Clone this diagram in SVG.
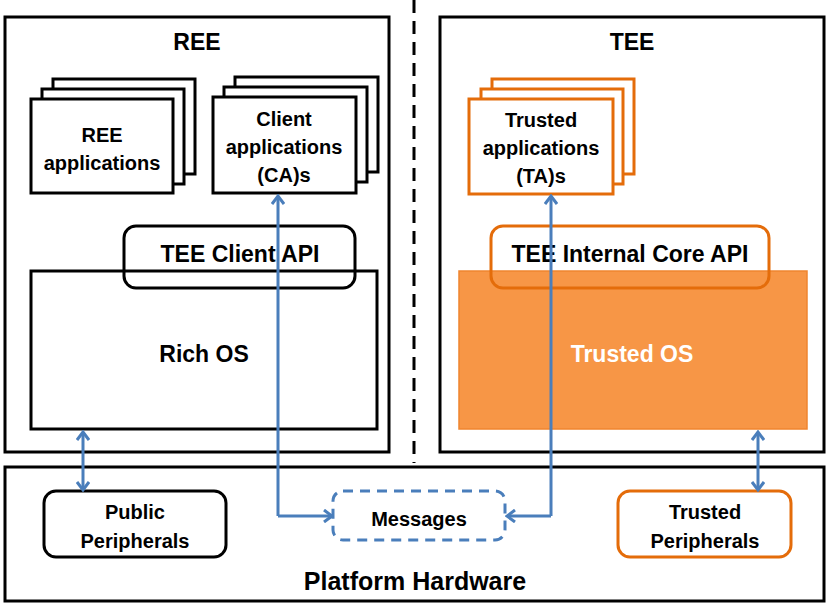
<svg xmlns="http://www.w3.org/2000/svg" width="827" height="603" viewBox="0 0 827 603">
  <style>
    text { font-family: "Liberation Sans", Arial, sans-serif; font-weight: bold; fill: #000; text-anchor: middle; }
    .title { font-size: 23px; }
    .lbl { font-size: 20px; }
    .box { fill: none; stroke: #000; stroke-width: 3; }
    .wbox { fill: #fff; stroke: #000; stroke-width: 3; }
    .obox { fill: #fff; stroke: #e46c0a; stroke-width: 3; }
    .oline { fill: none; stroke: #e46c0a; stroke-width: 3; }
    .conn { fill: none; stroke: #4a7ebb; stroke-width: 3; }
  </style>
  <defs>
    <marker id="head" markerWidth="12" markerHeight="14" refX="10" refY="7" orient="auto-start-reverse" markerUnits="userSpaceOnUse">
      <path d="M2,1 L10,7 L2,13" fill="none" stroke="#4a7ebb" stroke-width="3"/>
    </marker>
  </defs>

  <rect width="827" height="603" fill="#fff"/>

  <!-- world separator -->
  <line x1="414" y1="0" x2="414" y2="463" stroke="#000" stroke-width="3" stroke-dasharray="13,8"/>

  <!-- REE -->
  <g id="ree">
    <rect class="box" x="5" y="17" width="384" height="435"/>
    <text class="title" x="197" y="50">REE</text>
  </g>

  <g id="ree-apps">
    <rect class="wbox" x="53" y="79" width="142" height="95"/>
    <rect class="wbox" x="42" y="89" width="142" height="95"/>
    <rect class="wbox" x="31" y="99" width="142" height="94"/>
    <text class="lbl" x="102" y="142">REE</text>
    <text class="lbl" x="102" y="170">applications</text>
  </g>

  <g id="client-apps">
    <rect class="wbox" x="235" y="77" width="143" height="95"/>
    <rect class="wbox" x="224" y="87" width="143" height="95"/>
    <rect class="wbox" x="213" y="97" width="143" height="96"/>
    <text class="lbl" x="284" y="126">Client</text>
    <text class="lbl" x="284" y="154">applications</text>
    <text class="lbl" x="284" y="182">(CA)s</text>
  </g>

  <g id="rich-os">
    <rect class="box" x="31" y="271" width="346" height="158"/>
    <text class="title" x="204" y="362">Rich OS</text>
  </g>

  <g id="tee-client-api">
    <rect class="box" x="124" y="226" width="231" height="62" rx="12"/>
    <text class="title" x="240" y="262">TEE Client API</text>
  </g>

  <!-- TEE -->
  <g id="tee">
    <rect class="box" x="440" y="17" width="384" height="435"/>
    <text class="title" x="632" y="50">TEE</text>
  </g>

  <g id="trusted-apps">
    <rect class="obox" x="492" y="79" width="142" height="95"/>
    <rect class="obox" x="481" y="89" width="142" height="95"/>
    <rect class="obox" x="469" y="99" width="144" height="95"/>
    <text class="lbl" x="541" y="127">Trusted</text>
    <text class="lbl" x="541" y="155">applications</text>
    <text class="lbl" x="541" y="183">(TA)s</text>
  </g>

  <g id="trusted-os">
    <rect x="459" y="271" width="348" height="158" fill="#f79646" stroke="#f0852f" stroke-width="1.5"/>
    <text class="title" x="632" y="362" style="fill:#fff">Trusted OS</text>
  </g>

  <g id="tee-internal-api">
    <rect class="oline" x="491" y="226" width="278" height="62" rx="12"/>
    <text class="title" x="630" y="262">TEE Internal Core API</text>
  </g>

  <!-- hardware -->
  <g id="platform-hardware">
    <rect class="box" x="5" y="467" width="819" height="134"/>
    <text class="title" x="415" y="590" style="font-size:25px">Platform Hardware</text>
  </g>

  <g id="public-peripherals">
    <rect class="wbox" x="44" y="491" width="182" height="66" rx="12"/>
    <text class="lbl" x="135" y="519">Public</text>
    <text class="lbl" x="135" y="548">Peripherals</text>
  </g>

  <g id="messages">
    <rect x="333" y="491" width="172" height="49" rx="10" fill="#fff" stroke="#4a7ebb" stroke-width="3" stroke-dasharray="10,7"/>
    <text class="lbl" x="419" y="526">Messages</text>
  </g>

  <g id="trusted-peripherals">
    <rect class="obox" x="618" y="491" width="173" height="66" rx="12"/>
    <text class="lbl" x="705" y="519">Trusted</text>
    <text class="lbl" x="705" y="548">Peripherals</text>
  </g>

  <!-- connectors -->
  <g id="connectors">
    <path class="conn" d="M278,516 L278,196" marker-end="url(#head)"/>
    <path class="conn" d="M278,516 L332,516" marker-end="url(#head)"/>
    <path class="conn" d="M551,516 L551,196" marker-end="url(#head)"/>
    <path class="conn" d="M551,516 L507,516" marker-end="url(#head)"/>
    <path class="conn" d="M83,432 L83,490" marker-start="url(#head)" marker-end="url(#head)"/>
    <path class="conn" d="M758,432 L758,490" marker-start="url(#head)" marker-end="url(#head)"/>
  </g>
</svg>
